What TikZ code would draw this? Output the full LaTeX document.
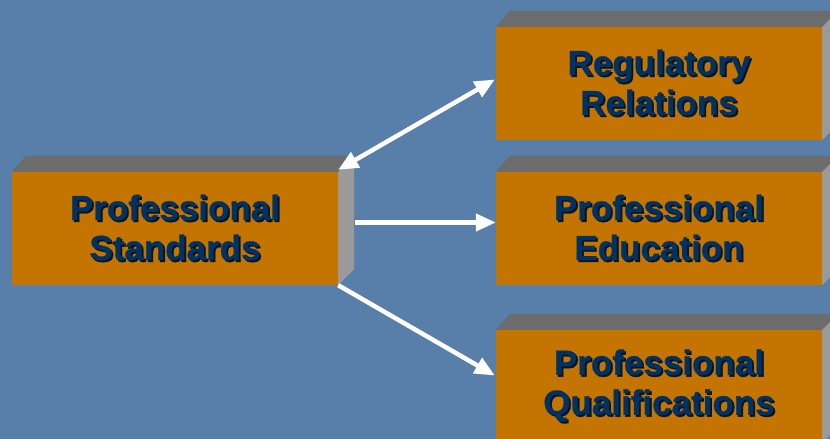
\documentclass[tikz,border=0pt]{standalone}
\usepackage{fontspec}
\setmainfont{Liberation Sans}
\newfontfamily\boxfont{Liberation Sans Bold}[RawFeature={embolden=0.8}]
\usetikzlibrary{calc,arrows.meta}
\definecolor{bgblue}{RGB}{88,126,170}
\definecolor{boxorange}{RGB}{196,116,0}
\definecolor{topgray}{RGB}{108,108,108}
\definecolor{sidegray}{RGB}{154,154,154}
\definecolor{navytext}{RGB}{0,50,100}
\definecolor{shadowc}{RGB}{10,18,30}
\newcommand\shtext[1]{\leavevmode\rlap{\hspace{1.8bp}\raisebox{-1.8bp}{\color{shadowc}#1}}#1}
\tikzset{
  front/.style={fill=boxorange, minimum width=326bp, minimum height=113bp,
    inner sep=0pt, align=center, text=navytext,
    font=\boxfont\fontsize{35bp}{40bp}\selectfont},
  topface/.style={fill=topgray},
  sideface/.style={fill=sidegray},
  conn/.style={draw=white, line width=4.5bp,
    -{Triangle[length=20bp,width=17bp]}, shorten >=0pt},
  dconn/.style={draw=white, line width=4.5bp,
    {Triangle[length=20bp,width=17bp]}-{Triangle[length=20bp,width=17bp]}}
}
\begin{document}
\begin{tikzpicture}[x=1bp,y=-1bp]
\useasboundingbox (0,0) rectangle (830,439);
\clip (0,0) rectangle (830,439);
\fill[bgblue] (0,0) rectangle (830,439);

\node[front] (L)  at (175,228.5) {\shtext{Professional}\\\shtext{Standards}};
\node[front] (R1) at (659,83.5)  {\shtext{Regulatory}\\\shtext{Relations}};
\node[front] (R2) at (659,228.5) {\shtext{Professional}\\\shtext{Education}};
\node[front] (R3) at (659,386.5) {\shtext{Professional}\\\shtext{Qualifications}};

\foreach \b in {L,R1,R2,R3}{
  \fill[topface] (\b.north west) -- ++(14,-16) -- ($(\b.north east)+(16,-16)$) -- (\b.north east) -- cycle;
  \fill[sideface] (\b.north east) -- ++(16,-16) -- ($(\b.south east)+(16,-16)$) -- (\b.south east) -- cycle;
}

\coordinate (Lc) at ($(L.north east)+(0,-2)$);
\coordinate (R1t) at ($(R1.west)+(-1,-4)$);
\draw[dconn] (Lc) -- (R1t);

\coordinate (Ls) at ($(L.east)+(17,-6)$);
\draw[conn] (Ls) -- (Ls -| R2.west);

\coordinate (R3t) at ($(R3.west)+(-1,-11)$);
\draw[conn] (L.south east) -- (R3t);
\end{tikzpicture}
\end{document}
